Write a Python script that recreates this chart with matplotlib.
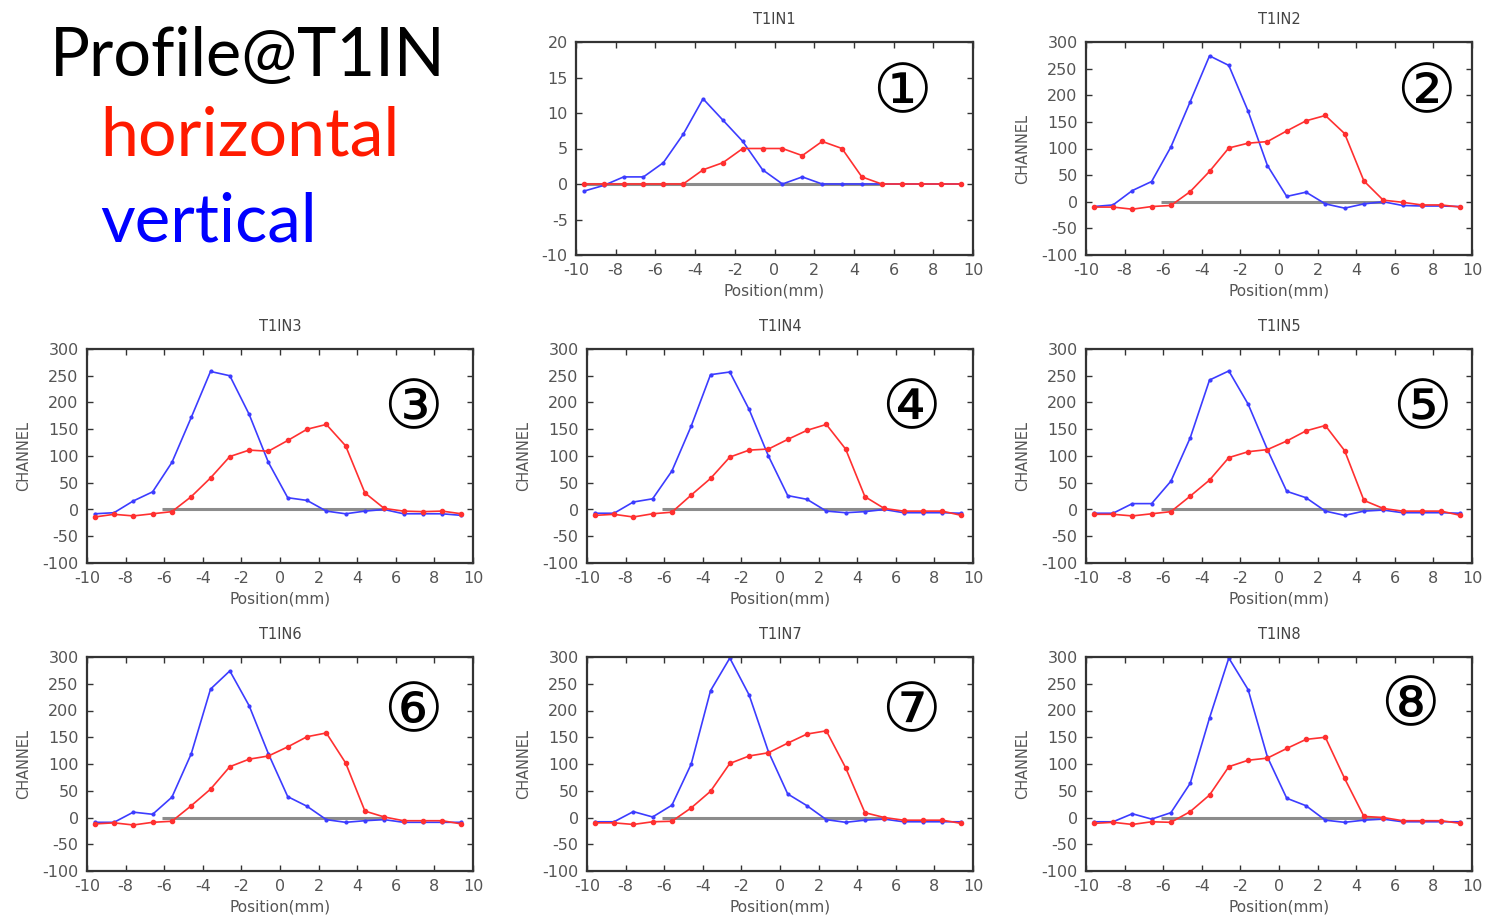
import matplotlib
matplotlib.use("Agg")
import matplotlib.pyplot as plt

plt.rcParams['axes.unicode_minus'] = False

# positions of the wire channels (mm)
position = [-9.6, -8.6, -7.6, -6.6, -5.6, -4.6, -3.6, -2.6, -1.6, -0.6,
            0.4, 1.4, 2.4, 3.4, 4.4, 5.4, 6.4, 7.4, 8.4, 9.4]

# horizontal (red) / vertical (blue) profiles per monitor
horiz1 = [0, 0, 0, 0, 0, 0, 2, 3, 5, 5, 5, 4, 6, 5, 1, 0, 0, 0, 0, 0]
vert1 = [-1, -0.2, 1, 1, 3, 7, 12, 9, 6, 2, 0, 1, 0, 0, 0, 0, 0, 0, 0, 0]

horiz2 = [-10, -10, -14, -9, -7, 19, 57, 101, 110, 113, 133, 152, 162, 128, 39, 3, -1, -6, -6, -10]
vert2 = [-9, -6, 21, 38, 103, 188, 274, 256, 170, 68, 10, 18, -4, -12, -4, 0, -7, -8, -8, -9]

horiz3 = [-14, -9, -12, -8, -4, 24, 59, 99, 111, 109, 129, 150, 159, 119, 31, 2, -3, -4, -3, -8]
vert3 = [-8, -6, 16, 33, 88, 172, 258, 250, 178, 88, 22, 17, -3, -8, -3, 0, -8, -8, -8, -11]

horiz4 = [-11, -9, -14, -8, -5, 27, 58, 98, 111, 113, 131, 148, 159, 113, 24, 2, -3, -3, -3, -11]
vert4 = [-7, -7, 14, 20, 72, 156, 252, 257, 187, 100, 26, 19, -3, -6, -4, 0, -6, -6, -6, -7]

horiz5 = [-9, -9, -12, -8, -4, 25, 55, 97, 108, 112, 128, 147, 157, 110, 17, 2, -3, -3, -3, -11]
vert5 = [-7, -7, 11, 11, 53, 134, 242, 259, 197, 112, 34, 22, -3, -11, -3, -1, -6, -6, -6, -7]

horiz6 = [-12, -10, -14, -9, -7, 22, 53, 95, 109, 115, 132, 151, 158, 102, 12, 1, -6, -6, -6, -12]
vert6 = [-9, -9, 10, 6, 38, 119, 240, 274, 209, 119, 39, 21, -4, -9, -6, -4, -9, -9, -9, -9]

horiz7 = [-10, -10, -13, -8, -7, 18, 49, 101, 115, 121, 139, 156, 162, 93, 9, 0, -5, -5, -5, -11]
vert7 = [-8, -8, 11, 1, 23, 100, 237, 298, 229, 123, 44, 22, -4, -9, -5, -3, -8, -8, -8, -8]

horiz8 = [-11, -9, -13, -8, -9, 11, 42, 95, 107, 111, 129, 146, 150, 73, 2, 0, -6, -6, -6, -11]
vert8 = [-8, -8, 7, -3, 9, 64, 186, 298, 239, 113, 36, 22, -5, -9, -5, -3, -8, -8, -8, -8]

titles = ['T1IN1', 'T1IN2', 'T1IN3', 'T1IN4', 'T1IN5', 'T1IN6', 'T1IN7', 'T1IN8']
badges = ['\u2460', '\u2461', '\u2462', '\u2463', '\u2464', '\u2465', '\u2466', '\u2467']
baseline_start = [-9.6, -6.1, -6.1, -6.1, -6.1, -6.1, -6.1, -6.1]
baseline_end = [5.4, 5.4, 5.4, 5.4, 5.4, 5.4, 5.4, 5.4]

horiz = [horiz1, horiz2, horiz3, horiz4, horiz5, horiz6, horiz7, horiz8]
vert = [vert1, vert2, vert3, vert4, vert5, vert6, vert7, vert8]

W, H = 1495, 918
fig = plt.figure(figsize=(W / 100, H / 100), dpi=100)

# axes boxes in pixels: left, top, right, bottom
boxes = [(576, 42, 973, 255), (1086, 42, 1472, 255),
         (87, 349, 473, 563), (587, 349, 973, 563), (1086, 349, 1472, 563),
         (87, 657, 473, 871), (587, 657, 973, 871), (1086, 657, 1472, 871)]
badge_pos = [(0.82, 0.76), (0.88, 0.76), (0.845, 0.72), (0.84, 0.72),
             (0.87, 0.72), (0.845, 0.74), (0.84, 0.74), (0.84, 0.77)]

tick_col = '#555555'
for i in range(8):
    l, t, r, b = boxes[i]
    ax = fig.add_axes([l / W, 1 - b / H, (r - l) / W, (b - t) / H])
    ax.hlines(0, baseline_start[i], baseline_end[i], color='#8c8c8c', lw=2.2, zorder=1)
    ax.plot(position, horiz[i], color='#ff3030', lw=1.2, marker='o', ms=3, zorder=3)
    ax.plot(position, vert[i], color='#3c3cff', lw=1.2, marker='o', ms=2, zorder=2)
    ax.set_xlim(-10, 10)
    ax.set_xticks(range(-10, 11, 2))
    if i == 0:
        ax.set_ylim(-10, 20)
        ax.set_yticks(range(-10, 21, 5))
    else:
        ax.set_ylim(-100, 300)
        ax.set_yticks(range(-100, 301, 50))
        ax.set_ylabel('CHANNEL', fontsize=10.5, color=tick_col, labelpad=8)
    ax.tick_params(direction='in', top=True, right=True, length=4, width=1,
                   labelsize=11.5, labelcolor=tick_col, color='#333333', pad=6)
    ax.set_xlabel('Position(mm)', fontsize=11, color=tick_col, labelpad=4)
    ax.set_title(titles[i], fontsize=10.5, color='#444444', pad=13)
    for s in ax.spines.values():
        s.set_linewidth(1.6)
        s.set_color('#333333')
    bx, by = badge_pos[i]
    ax.text(bx, by, badges[i], transform=ax.transAxes, fontsize=48,
            ha='center', va='center', family=['DejaVu Sans', 'Noto Sans CJK JP'])

fig.text(50 / W, 1 - 57 / H, 'Profile@T1IN', fontsize=48, family='Lato',
         color='black', va='center', ha='left')
fig.text(100 / W, 1 - 137 / H, 'horizontal', fontsize=49, family='Lato',
         color='#ff1a00', va='center', ha='left')
fig.text(100 / W, 1 - 222 / H, 'vertical', fontsize=48.5, family='Lato',
         color='#0000ff', va='center', ha='left')

fig.savefig('out.png', dpi=100)
